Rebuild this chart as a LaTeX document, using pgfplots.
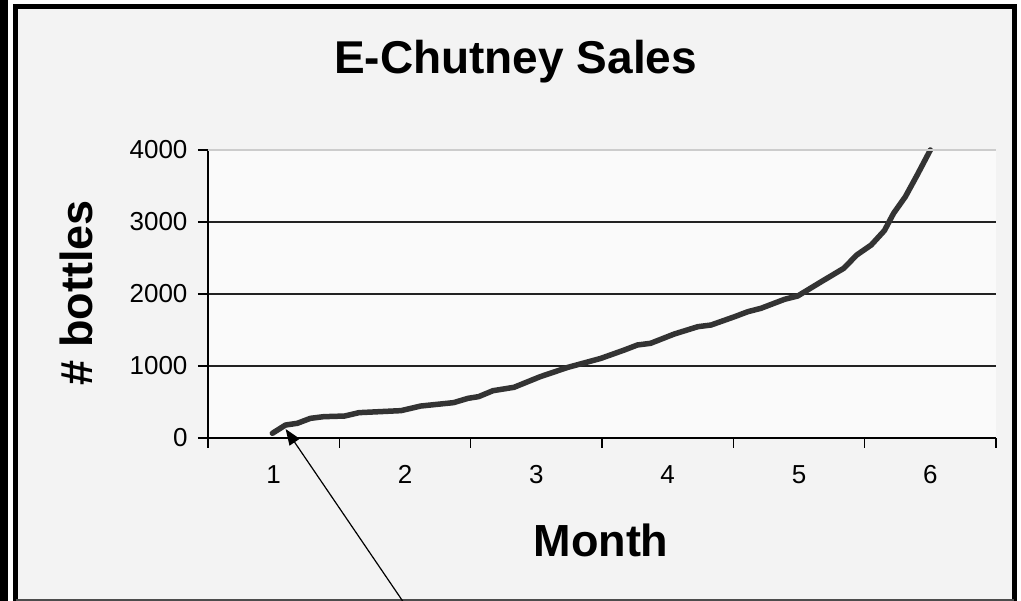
\documentclass[border=0pt]{standalone}
\usepackage{fontspec}
\setmainfont{Liberation Sans}
\usepackage{pgfplots}
\pgfplotsset{compat=1.18}
\usetikzlibrary{arrows.meta}
\definecolor{outerbg}{HTML}{F3F3F3}
\definecolor{plotbg}{HTML}{FAFAFA}
\definecolor{curve}{HTML}{333333}
\definecolor{gridc}{HTML}{222222}
\definecolor{topb}{HTML}{CCCCCC}

\pgfplotstableread{
month sales
0.99 65
1.09 180
1.18 204
1.28 273
1.38 296
1.54 305
1.65 352
1.81 366
1.97 380
2.12 444
2.37 491
2.48 551
2.56 574
2.67 657
2.83 704
3.03 852
3.24 981
3.49 1105
3.67 1222
3.77 1292
3.87 1315
4.05 1444
4.23 1546
4.33 1569
4.51 1685
4.61 1754
4.71 1801
4.89 1926
4.99 1972
5.17 2171
5.34 2356
5.44 2542
5.55 2681
5.65 2880
5.72 3120
5.81 3352
5.90 3653
6.00 4000
}\salestable

\begin{document}
\begin{tikzpicture}[x=1pt,y=1pt]
\useasboundingbox (0,0) rectangle (1021,601);
\fill[white] (0,0) rectangle (1021,601);
\fill[outerbg] (15.5,0) rectangle (1014,594);
\fill[black] (0,0) rectangle (8,601);
\draw[black, line width=5pt] (15.5,0) -- (15.5,594) -- (1014,594) -- (1014,0);
\draw[black!70, line width=2pt] (15.5,1) -- (1014,1);
\node[anchor=base, font=\fontsize{46}{46}\selectfont\bfseries] at (515.5,527) {E-Chutney Sales};
\node[anchor=base, font=\fontsize{45}{45}\selectfont\bfseries] at (601,44) {Month};
\node[anchor=base, rotate=90, font=\fontsize{45}{45}\selectfont\bfseries] at (92,308.5) {\# bottles};
\begin{axis}[
  at={(208pt,163pt)}, anchor=south west,
  scale only axis, width=788pt, height=288pt,
  xmin=0.5, xmax=6.5, ymin=0, ymax=4000,
  axis lines=left,
  axis line style={-, black, line width=1.5pt},
  axis background/.style={fill=plotbg},
  clip=false,
  xtick={0.5,1.5,...,6.5},
  x tick label as interval,
  xticklabels={1,2,3,4,5,6},
  ytick={0,1000,2000,3000,4000},
  yticklabels={0,1000,2000,3000,4000},
  tick align=outside,
  major tick length=10pt,
  tick style={black, line width=1.5pt},
  tick label style={font=\fontsize{26}{26}\selectfont},
  xticklabel style={yshift=-14pt},
  yticklabel style={xshift=-7pt},
  ymajorgrids=true,
  major grid style={gridc, line width=1.8pt},
]
\addplot[curve, line width=5.5pt, line join=round, line cap=round] table[x=month, y=sales] {\salestable};
\draw[topb, line width=1.8pt] (rel axis cs:0,1) -- (rel axis cs:1,1);
\draw[black, line width=1.2pt, -{Triangle[length=16pt,width=12pt]}] (axis cs:1.982,-2264) -- (axis cs:1.091,125);
\end{axis}
\end{tikzpicture}
\end{document}
